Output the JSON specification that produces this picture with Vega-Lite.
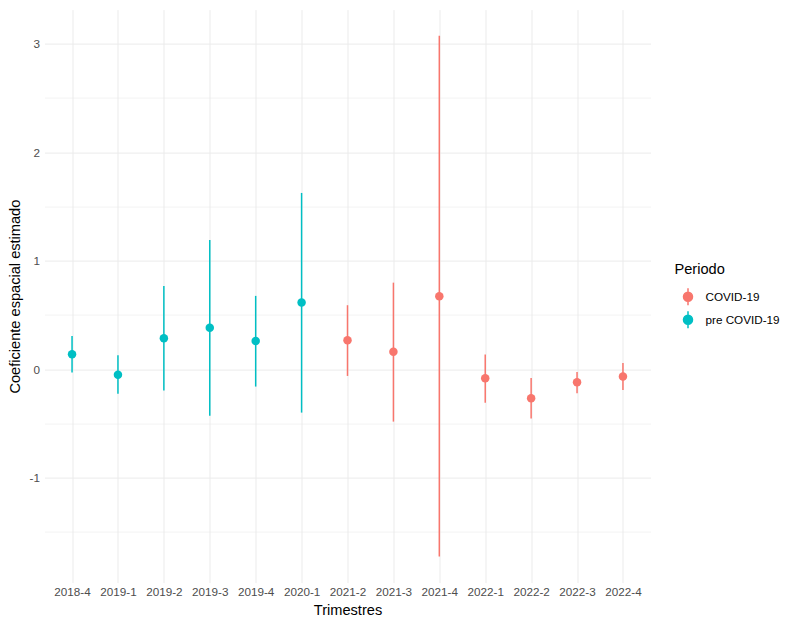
{
  "$schema": "https://vega.github.io/schema/vega-lite/v6.json",
  "autosize": {"type": "none"},
  "width": 606,
  "height": 573,
  "padding": {"left": 44.5, "top": 9.6, "right": 134.5, "bottom": 36.4},
  "background": "white",
  "config": {
    "font": "Liberation Sans",
    "view": {"stroke": null},
    "axis": {"domain": false, "ticks": false, "gridColor": "#ebebeb", "labelColor": "#4d4d4d", "labelFontSize": 11.7, "titleFontSize": 14.6, "titleFontWeight": "normal", "titleColor": "black"}
  },
  "data": {
    "values": [
      {"trimestre": "2018-4", "periodo": "pre COVID-19", "coef": 0.138, "lo": -0.031, "hi": 0.307},
      {"trimestre": "2019-1", "periodo": "pre COVID-19", "coef": -0.05, "lo": -0.225, "hi": 0.129},
      {"trimestre": "2019-2", "periodo": "pre COVID-19", "coef": 0.286, "lo": -0.197, "hi": 0.768},
      {"trimestre": "2019-3", "periodo": "pre COVID-19", "coef": 0.383, "lo": -0.43, "hi": 1.192},
      {"trimestre": "2019-4", "periodo": "pre COVID-19", "coef": 0.261, "lo": -0.16, "hi": 0.676},
      {"trimestre": "2020-1", "periodo": "pre COVID-19", "coef": 0.614, "lo": -0.4, "hi": 1.625},
      {"trimestre": "2021-2", "periodo": "COVID-19", "coef": 0.267, "lo": -0.062, "hi": 0.59},
      {"trimestre": "2021-3", "periodo": "COVID-19", "coef": 0.162, "lo": -0.483, "hi": 0.798},
      {"trimestre": "2021-4", "periodo": "COVID-19", "coef": 0.673, "lo": -1.727, "hi": 3.075},
      {"trimestre": "2022-1", "periodo": "COVID-19", "coef": -0.083, "lo": -0.308, "hi": 0.135},
      {"trimestre": "2022-2", "periodo": "COVID-19", "coef": -0.267, "lo": -0.455, "hi": -0.08},
      {"trimestre": "2022-3", "periodo": "COVID-19", "coef": -0.12, "lo": -0.221, "hi": -0.025},
      {"trimestre": "2022-4", "periodo": "COVID-19", "coef": -0.068, "lo": -0.191, "hi": 0.058}
    ]
  },
  "encoding": {
    "x": {
      "field": "trimestre", "type": "ordinal",
      "scale": {"type": "point", "padding": 0.6},
      "axis": {"title": "Trimestres", "labelAngle": 0, "labelPadding": 4, "titlePadding": 4, "grid": true, "gridWidth": 1}
    },
    "color": {
      "field": "periodo", "type": "nominal",
      "scale": {"domain": ["COVID-19", "pre COVID-19"], "range": ["#F8766D", "#00BFC4"]},
      "legend": {
        "title": "Periodo",
        "orient": "none",
        "legendX": 630,
        "legendY": 252,
        "titleFontSize": 14.6,
        "titleFontWeight": "normal",
        "titleColor": "black",
        "titlePadding": 11,
        "labelFontSize": 11.7,
        "labelColor": "black",
        "labelOffset": 8,
        "rowPadding": 0,
        "symbolType": "M0,-1V1M-0.53,0A0.53,0.53 0 1,0 0.53,0A0.53,0.53 0 1,0 -0.53,0Z",
        "symbolSize": 289,
        "symbolStrokeWidth": 1.5,
        "symbolOffset": 4,
        "encode": {
          "symbols": {
            "update": {
              "stroke": {"scale": "color", "field": "value"},
              "fill": {"scale": "color", "field": "value"},
              "opacity": {"value": 1}
            }
          }
        }
      }
    }
  },
  "layer": [
    {
      "mark": {"type": "rule", "strokeWidth": 1.5},
      "encoding": {
        "y": {
          "field": "lo", "type": "quantitative",
          "scale": {"domain": [-1.967, 3.315], "nice": false, "zero": false},
          "axis": {
            "title": "Coeficiente espacial estimado",
            "values": [-1.5, -1, -0.5, 0, 0.5, 1, 1.5, 2, 2.5, 3],
            "labelExpr": "datum.value % 1 === 0 ? '' + datum.value : ''",
            "gridWidth": {"condition": {"test": "datum.value % 1 === 0", "value": 1}, "value": 0.6},
            "labelPadding": 5,
            "titlePadding": 7
          }
        },
        "y2": {"field": "hi"}
      }
    },
    {
      "mark": {"type": "rule", "color": "#8a8a8a", "strokeWidth": 1.5},
      "encoding": {"y": {"datum": 0, "type": "quantitative"}, "color": {"value": "#8a8a8a"}}
    },
    {
      "mark": {"type": "circle", "size": 72, "opacity": 1},
      "encoding": {
        "y": {"field": "coef", "type": "quantitative"}
      }
    }
  ]
}
